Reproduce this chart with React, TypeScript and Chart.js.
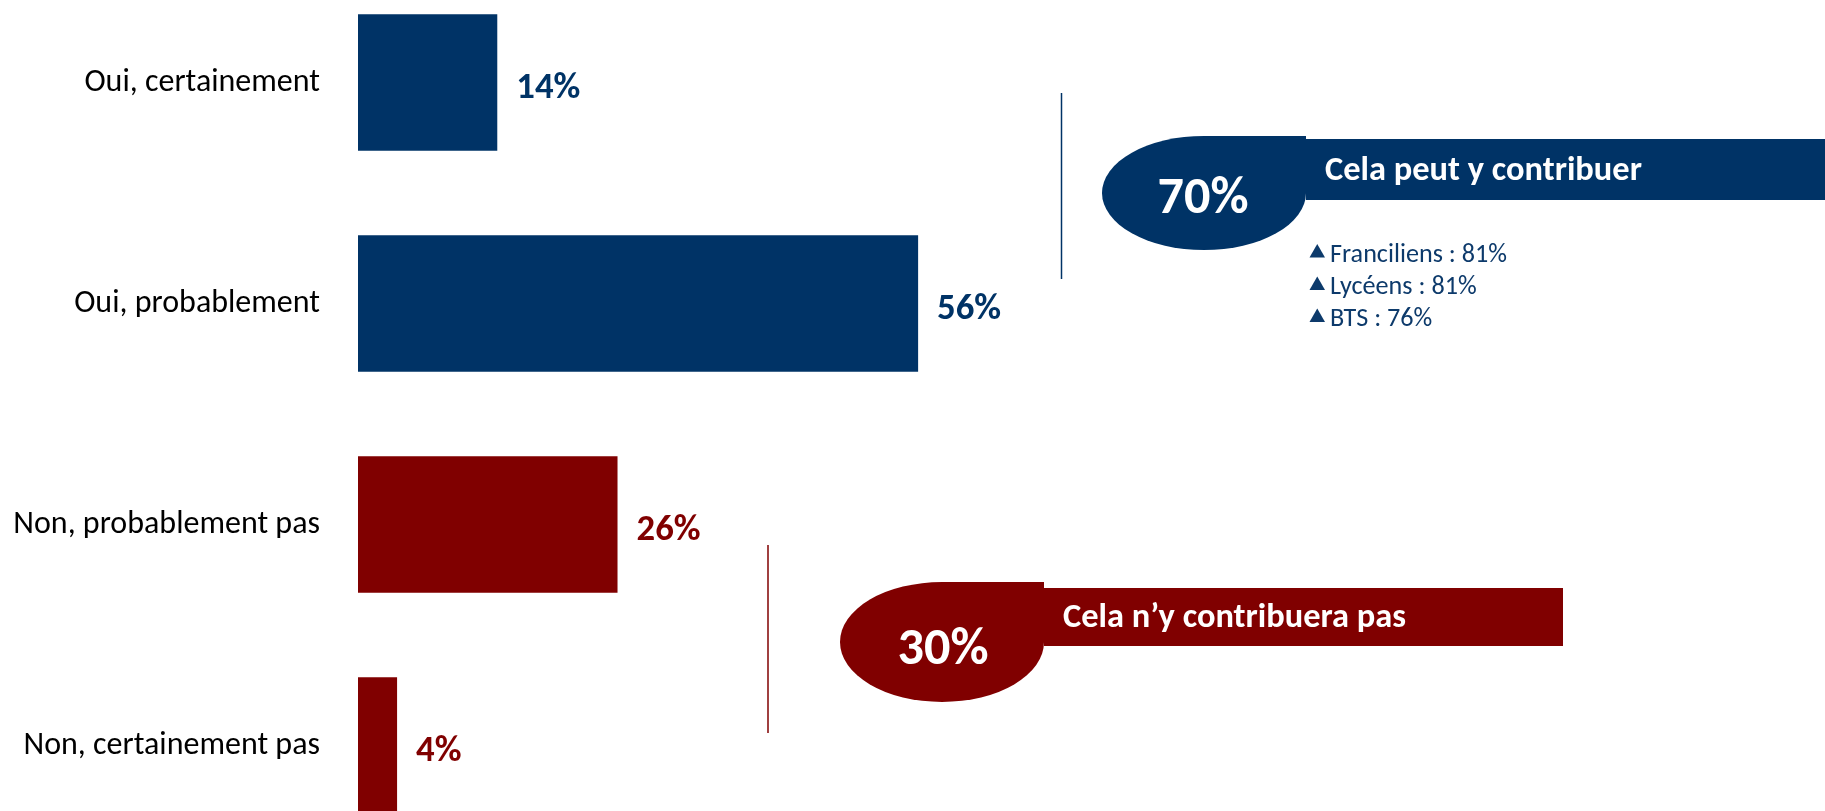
import React, { useEffect, useRef } from 'react';
import { Chart, registerables } from 'chart.js';

Chart.register(...registerables);

// ---- data ----
const categories = ['Oui, certainement', 'Oui, probablement', 'Non, probablement pas', 'Non, certainement pas'];
const values = [14, 56, 26, 4];
const barColors = ['#003366', '#003366', '#800000', '#800000'];
const groupTitles = ['Cela peut y contribuer', 'Cela n’y contribuera pas'];
const groupTotals = [70, 30];
const groupColors = ['#003366', '#800000'];
const subgroupLabels = ['Franciliens', 'Lycéens', 'BTS'];
const subgroupValues = [81, 81, 76];

const FONT = 'Carlito, Lato, "Open Sans", sans-serif';
const OFF = 28; // canvas is shifted up by this many px

type Callout = {
  lineX: number; lineTop: number; lineBottom: number;
  cx: number; cy: number; rx: number; ry: number; top: number;
  bannerLeft: number; bannerRight: number; bannerTop: number; bannerBottom: number;
  titleX: number; titleBase: number; totalX: number; totalBase: number;
};

const callouts: Callout[] = [
  {
    lineX: 1061.5, lineTop: 93, lineBottom: 279,
    cx: 1204, cy: 193, rx: 102, ry: 57, top: 136,
    bannerLeft: 1306, bannerRight: 1825, bannerTop: 139, bannerBottom: 200,
    titleX: 1325, titleBase: 179.5, totalX: 1203, totalBase: 213,
  },
  {
    lineX: 768, lineTop: 545, lineBottom: 733,
    cx: 942, cy: 642, rx: 102, ry: 60, top: 582,
    bannerLeft: 1044, bannerRight: 1563, bannerTop: 588, bannerBottom: 646,
    titleX: 1063, titleBase: 627, totalX: 943, totalBase: 664,
  },
];

function fitSize(ctx: CanvasRenderingContext2D, text: string, weight: string, target: number) {
  ctx.font = `${weight} 100px ${FONT}`;
  const w = ctx.measureText(text).width;
  return (100 * target) / w;
}

const annotPlugin = {
  id: 'annot',
  afterDatasetsDraw(chart: any) {
    const ctx: CanvasRenderingContext2D = chart.ctx;
    const meta = chart.getDatasetMeta(0);
    ctx.save();
    ctx.textBaseline = 'alphabetic';
    // value labels
    const valSize = fitSize(ctx, `${values[0]}%`, 'bold', 64);
    meta.data.forEach((bar: any, i: number) => {
      ctx.font = `bold ${valSize}px ${FONT}`;
      ctx.fillStyle = barColors[i];
      ctx.textAlign = 'left';
      ctx.fillText(`${values[i]}%`, bar.x + 18, bar.y + 15.5);
    });

    const titleSize = fitSize(ctx, groupTitles[0], 'bold', 317);
    const totalSize = fitSize(ctx, `${groupTotals[0]}%`, 'bold', 91);
    // callouts
    callouts.forEach((c, g) => {
      const col = groupColors[g];
      const y = (v: number) => v + OFF;
      // vertical line
      ctx.strokeStyle = col;
      ctx.lineWidth = 1.5;
      ctx.beginPath();
      ctx.moveTo(c.lineX, y(c.lineTop));
      ctx.lineTo(c.lineX, y(c.lineBottom));
      ctx.stroke();
      // banner
      ctx.fillStyle = col;
      ctx.fillRect(c.bannerLeft, y(c.bannerTop), c.bannerRight - c.bannerLeft, c.bannerBottom - c.bannerTop);
      // drop shape: ellipse with square top-right quadrant
      const right = c.cx + c.rx;
      ctx.beginPath();
      ctx.moveTo(right, y(c.cy));
      ctx.ellipse(c.cx, y(c.cy), c.rx, c.ry, 0, 0, Math.PI, false);
      ctx.ellipse(c.cx, y(c.cy), c.rx, c.cy - c.top, 0, Math.PI, Math.PI * 1.5, false);
      ctx.lineTo(right, y(c.top));
      ctx.closePath();
      ctx.fill();
      // title
      ctx.fillStyle = '#ffffff';
      ctx.font = `bold ${titleSize}px ${FONT}`;
      ctx.textAlign = 'left';
      ctx.fillText(groupTitles[g], c.titleX, y(c.titleBase));
      // total
      ctx.font = `bold ${totalSize}px ${FONT}`;
      ctx.textAlign = 'center';
      ctx.fillText(`${groupTotals[g]}%`, c.totalX, y(c.totalBase));
    });

    // subgroup list under blue callout
    const first = `${subgroupLabels[0]} : ${subgroupValues[0]}%`;
    const subSize = fitSize(ctx, first, 'normal', 177);
    ctx.fillStyle = '#0d3a6b';
    ctx.font = `${subSize}px ${FONT}`;
    ctx.textAlign = 'left';
    const rows = [253, 285.5, 317.5];
    subgroupLabels.forEach((lab, i) => {
      const ry = rows[i] + OFF;
      ctx.beginPath();
      ctx.moveTo(1309.5, ry + 4.5);
      ctx.lineTo(1325, ry + 4.5);
      ctx.lineTo(1317.25, ry - 9);
      ctx.closePath();
      ctx.fill();
      ctx.fillText(`${lab} : ${subgroupValues[i]}%`, 1330, ry + 8.5);
    });
    ctx.restore();
  },
};

export default function App() {
  const ref = useRef<HTMLCanvasElement>(null);
  useEffect(() => {
    const canvas = ref.current!;
    const chart = new Chart(canvas, {
      type: 'bar',
      data: {
        labels: categories,
        datasets: [
          {
            data: values,
            backgroundColor: barColors,
            borderColor: 'rgba(255,255,255,0.25)',
            borderWidth: 1,
            barPercentage: 0.627,
            categoryPercentage: 1,
          },
        ],
      },
      options: {
        indexAxis: 'y',
        responsive: false,
        animation: false,
        layout: { padding: { left: 0, right: 465, top: 0, bottom: 0 } },
        plugins: {
          legend: { display: false },
          tooltip: { enabled: false },
          title: { display: false },
        },
        scales: {
          x: { display: false, min: 0, max: 100 },
          y: {
            afterFit: (s: any) => {
              s.width = 358;
              s.paddingTop = 0;
              s.paddingBottom = 0;
            },
            grid: { display: false, drawTicks: false },
            border: { display: false },
            ticks: { padding: 38, color: '#000000', font: { family: FONT, size: 32 } },
          },
        },
      } as any,
      plugins: [annotPlugin],
    });
    return () => chart.destroy();
  }, []);
  return (
    <div
      style={{
        position: 'fixed',
        left: 0,
        top: 0,
        width: 1825,
        height: 811,
        overflow: 'hidden',
        background: '#ffffff',
      }}
    >
      <canvas
        ref={ref}
        width={1825}
        height={884}
        style={{ position: 'absolute', left: 0, top: -OFF, width: 1825, height: 884 }}
      />
    </div>
  );
}
